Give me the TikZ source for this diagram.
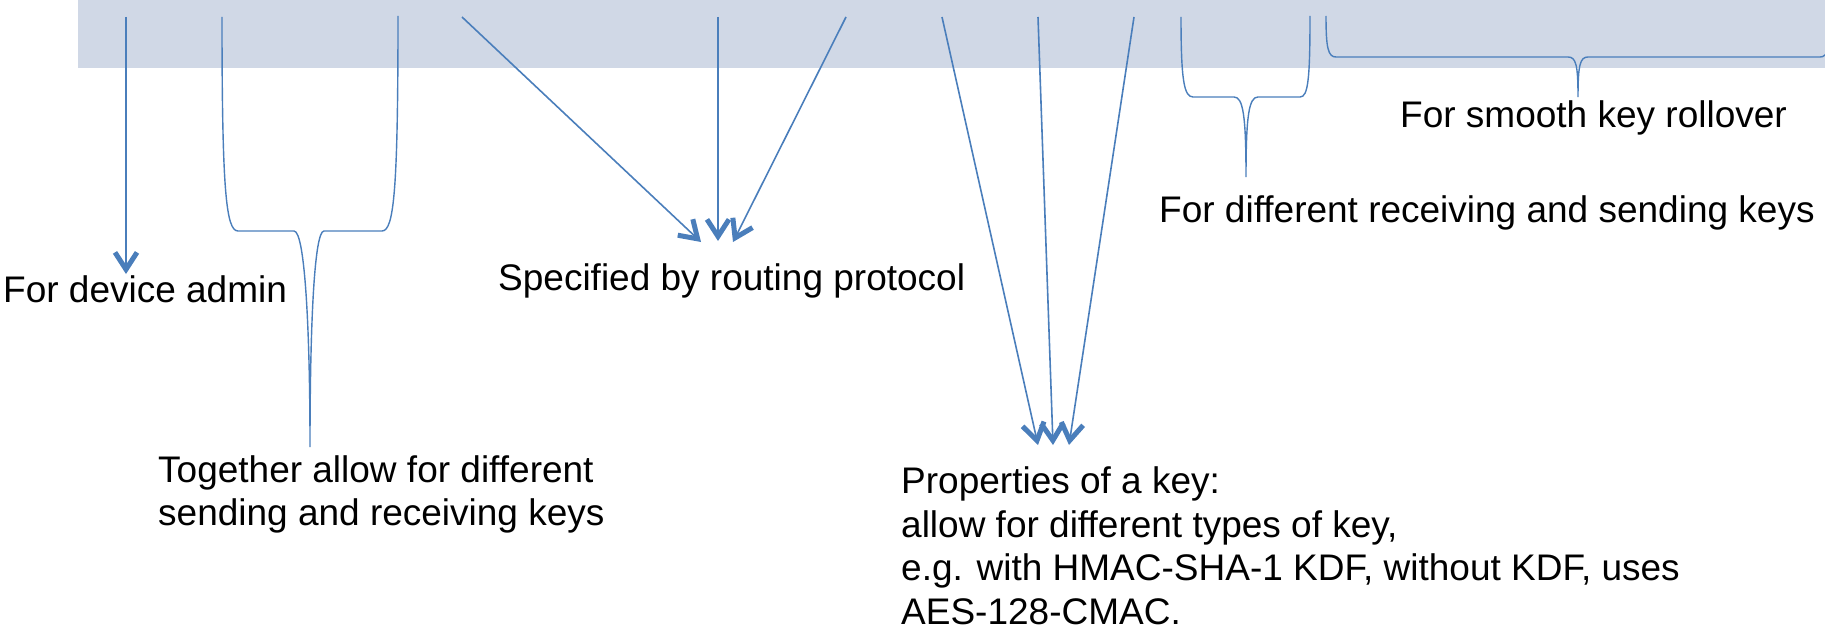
\documentclass[tikz,border=0pt]{standalone}
\usepackage{fontspec}
\setmainfont{Liberation Sans}
\usetikzlibrary{arrows.meta}
\definecolor{linec}{HTML}{4A7EBB}
\definecolor{bandc}{HTML}{D0D8E6}
\begin{document}
\begin{tikzpicture}[x=1pt,y=-1pt,
  conn/.style={draw=linec, line width=1.6pt, -{Straight Barb[length=17pt,width=22pt,line width=5pt,sharp] .}},
  bracestyle/.style={draw=linec, line width=1.4pt},
  lbl/.style={anchor=base west, inner sep=0pt, font=\fontsize{37}{43.5}\selectfont, align=left}]
\useasboundingbox (0,0) rectangle (1825,634);
\fill[bandc] (78,0) rectangle (1825,68);

% start points on the band
\coordinate (s1) at (126,17);
\coordinate (s2) at (462,17);
\coordinate (s3) at (718,17);
\coordinate (s4) at (846,17);
\coordinate (s5) at (942,17);
\coordinate (s6) at (1038,17);
\coordinate (s7) at (1134,17);
% arrow tips
\coordinate (t1) at (126,274);
\coordinate (t2) at (701,242);
\coordinate (t3) at (718,241);
\coordinate (t4) at (733,242);
\coordinate (t5) at (1038,445);
\coordinate (t6) at (1053,445);
\coordinate (t7) at (1069,445);

% labels (multi-line nodes are anchored at the baseline of their last line)
\node[lbl] (admin) at (3,302) {For device admin};
\node[lbl] (routing) at (498,290) {Specified by routing protocol};
\node[lbl] (together) at (158,525.5) {Together allow for different\\sending and receiving keys};
\node[lbl] (rollover) at (1400,127) {For smooth key rollover};
\node[lbl] (diffkeys) at (1159,222) {For different receiving and sending keys};
\node[lbl] (props) at (901,624) {Properties of a key:\\allow for different types of key,\\e.g. with HMAC-SHA-1 KDF, without KDF, uses\\AES-128-CMAC.};

% connectors
\draw[conn] (s1) -- (t1);
\draw[conn] (s2) -- (t2);
\draw[conn] (s3) -- (t3);
\draw[conn] (s4) -- (t4);
\draw[conn] (s5) -- (t5);
\draw[conn] (s6) -- (t6);
\draw[conn] (s7) -- (t7);

% braces
\coordinate (b1a) at (222,17);
\coordinate (b1b) at (398,16);
\coordinate (b1tip) at (310,447);
\draw[bracestyle] (b1a) .. controls (222,190) and (226,231) .. (238,231) -- (294,231)
  .. controls (305,231) and (310,330) .. (b1tip)
  .. controls (310,330) and (314,231) .. (324,231) -- (382,231)
  .. controls (394,231) and (398,190) .. (b1b);

\coordinate (b2a) at (1181,17);
\coordinate (b2b) at (1310,16);
\coordinate (b2tip) at (1246,177);
\draw[bracestyle] (b2a) .. controls (1181,80) and (1184,97) .. (1193,97) -- (1234,97)
  .. controls (1243,97) and (1246,115) .. (b2tip)
  .. controls (1246,115) and (1249,97) .. (1258,97) -- (1300,97)
  .. controls (1308,97) and (1310,80) .. (b2b);

\coordinate (b3a) at (1326,16);
\coordinate (b3b) at (1830,16);
\coordinate (b3tip) at (1578,97);
\draw[bracestyle] (b3a) .. controls (1326,48) and (1328,57) .. (1336,57) -- (1568,57)
  .. controls (1576,57) and (1578,65) .. (b3tip)
  .. controls (1578,65) and (1580,57) .. (1588,57) -- (1820,57)
  .. controls (1828,57) and (1830,48) .. (b3b);
\end{tikzpicture}
\end{document}
